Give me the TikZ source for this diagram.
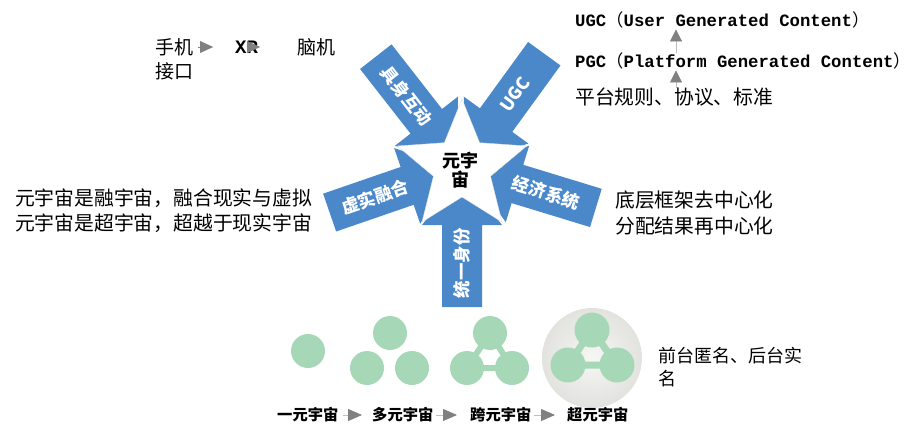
\documentclass[tikz,border=0pt]{standalone}
\usepackage{fontspec}
\setmainfont{Noto Sans CJK SC}
\newfontfamily\monof{Liberation Mono}
\usetikzlibrary{arrows.meta,calc}
\definecolor{arrowblue}{RGB}{74,136,201}
\definecolor{tri}{RGB}{128,128,128}
\definecolor{ball}{RGB}{166,216,183}
\definecolor{ballline}{RGB}{190,190,190}
\definecolor{halo}{RGB}{246,246,244}
\definecolor{haloedge}{RGB}{226,226,223}
\begin{document}
\begin{tikzpicture}[x=1pt,y=1pt,
  txt/.style={inner sep=0pt, anchor=west, text=black},
  fa/.style={font=\fontsize{19}{22}\selectfont},
  fb/.style={font=\fontsize{19.8}{24}\selectfont},
  fm/.style={font=\fontsize{17.3}{20}\selectfont},
  fc/.style={font=\fontsize{18}{22}\selectfont},
  flab/.style={font=\fontsize{15.3}{18}\selectfont\bfseries},
  atext/.style={inner sep=0pt, text=white, font=\fontsize{17.5}{19}\selectfont\bfseries},
  bigarrow/.style={fill=arrowblue},
  flow/.style={draw=ballline, line width=0.8pt, -{Triangle[length=14pt,width=12pt,color=tri]}},
  tiponly/.style={draw=tri, line width=0.1pt, -{Triangle[length=13pt,width=12pt,color=tri]}},
  uptip/.style={draw=ballline, line width=0.8pt, -{Triangle[length=12pt,width=12pt,color=tri]}},
  ballfill/.style={fill=ball}
]
\useasboundingbox (0,0) rectangle (919,-439);

% ---- central star with arrows ----
\coordinate (C) at (462,-167);
\foreach \a in {54,128,199,270,343}{
  \begin{scope}[shift={(C)},rotate=\a]
    \fill[bigarrow] (6,0) -- (58,40) -- (58,20) -- (140,20) -- (140,-20) -- (58,-20) -- (58,-40) -- cycle;
  \end{scope}
}
\begin{scope}[shift={(C)}]
  \fill[white, draw=black!12, line width=0.4pt]
    (90:68) -- (126:30) -- (162:68) -- (198:30) -- (234:68) -- (270:30)
    -- (306:68) -- (342:30) -- (18:68) -- (54:30) -- cycle;
\end{scope}
\node[inner sep=0pt, align=center, font=\fontsize{18}{19.5}\selectfont\bfseries] (core) at (460,-170) {元宇\\宙};

\node[atext, rotate=-52] (jushen) at ($(C)+(128:90)$) {具身互动};
\node[atext, rotate=54]  (ugcA)   at ($(C)+(54:90)$)  {UGC};
\node[atext, rotate=19]  (xushi)  at ($(C)+(199:92)$) {虚实融合};
\node[atext, rotate=-17] (jingji) at ($(C)+(343:88)$) {经济系统};
\node[atext, rotate=90]  (tongyi) at ($(C)+(270:96)$) {统一身份};

% ---- top-left ----
\node[txt, fa] (shouji) at (155,-47) {手机};
\node[txt, font=\monof\bfseries\fontsize{19}{22}\selectfont] (xr) at (235,-47) {XR};
\node[txt, fa] (naoji) at (297,-47) {脑机};
\node[txt, fa] (jiekou) at (155,-71.5) {接口};
\draw[tiponly, shorten <=5pt, shorten >=22pt] (shouji) -- (xr);
\draw[tiponly, shorten >=37pt] (xr.center) -- (naoji.west);

% ---- top-right ----
\node[txt, fm] (ugcl) at (575,-20) {{\monof\bfseries UGC}（{\monof\bfseries User Generated Content}）};
\node[txt, fm] (pgcl) at (575,-61) {{\monof\bfseries PGC}（{\monof\bfseries Platform Generated Content}）};
\node[txt, fb] (pt) at (575,-97) {平台规则、协议、标准};
\coordinate (ax) at (676,0);
\draw[uptip, shorten <=0pt, shorten >=1pt] (pt.north -| ax) -- (pgcl.south -| ax);
\draw[uptip, shorten <=0pt, shorten >=1pt] (pgcl.north -| ax) -- (ugcl.south -| ax);

% ---- left / right texts ----
\node[txt, fb] (l1) at (15,-198) {元宇宙是融宇宙，融合现实与虚拟};
\node[txt, fb] (l2) at (15,-223) {元宇宙是超宇宙，超越于现实宇宙};
\node[txt, fb] (r1) at (615,-200) {底层框架去中心化};
\node[txt, fb] (r2) at (615,-226) {分配结果再中心化};

% ---- bottom circles ----
\fill[ballfill] (308,-351) circle (17);

\fill[ballfill] (390,-333) circle (17);
\fill[ballfill] (367,-368) circle (17);
\fill[ballfill] (412,-368) circle (17);

\draw[ball, line width=6pt, line join=round] (490,-333) -- (467,-368) -- (512,-368) -- cycle;
\fill[ballfill] (490,-333) circle (17);
\fill[ballfill] (467,-368) circle (17);
\fill[ballfill] (512,-368) circle (17);

\shade[inner color=halo, outer color=haloedge] (592,-358) circle (50);
\draw[ball, line width=7pt, line join=round] (592,-330) -- (568,-365) -- (617,-365) -- cycle;
\fill[ballfill] (592,-330) circle (17.5);
\fill[ballfill] (568,-365) circle (17.5);
\fill[ballfill] (617,-365) circle (17.5);

\node[txt, fc] (an1) at (658,-356) {前台匿名、后台实};
\node[txt, fc] (an2) at (658,-379) {名};

% ---- bottom labels ----
\node[txt, flab] (b1) at (277,-415) {一元宇宙};
\node[txt, flab] (b2) at (372,-415) {多元宇宙};
\node[txt, flab] (b3) at (470,-415) {跨元宇宙};
\node[txt, flab] (b4) at (567,-415) {超元宇宙};
\draw[flow, shorten <=4pt, shorten >=10pt] (b1) -- (b2);
\draw[flow, shorten <=2pt, shorten >=13pt] (b2) -- (b3);
\draw[flow, shorten <=2pt, shorten >=12pt] (b3) -- (b4);
\end{tikzpicture}
\end{document}
